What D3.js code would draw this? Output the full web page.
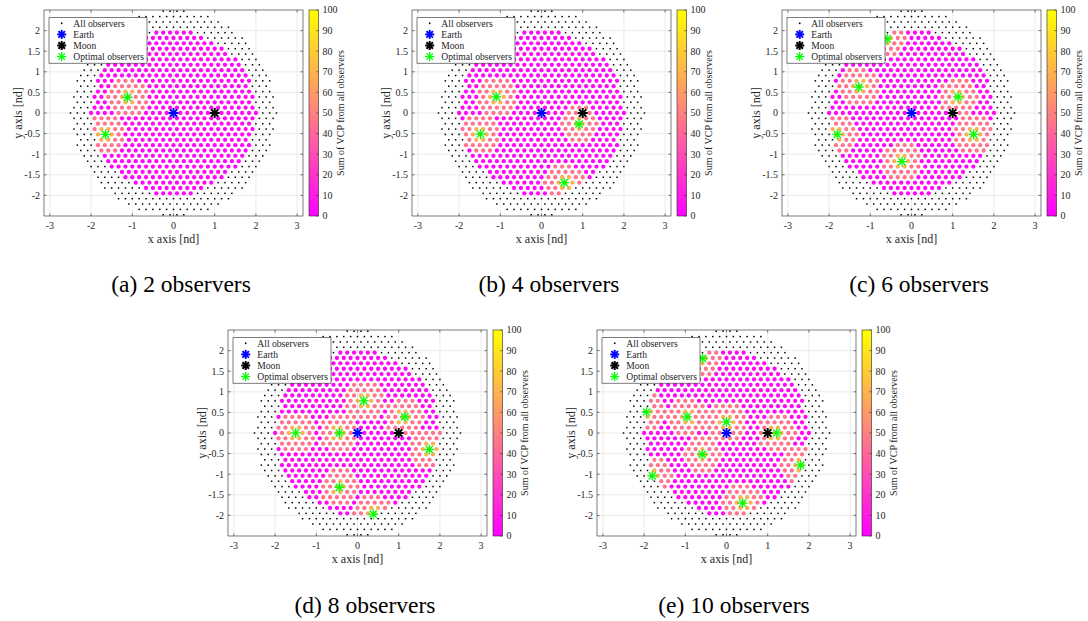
<!DOCTYPE html>
<meta charset="utf-8">
<body style="margin:0;background:#fff">
<script src="https://cdn.jsdelivr.net/npm/d3@7/dist/d3.min.js"></script>
<script>
// sub-figure captions
var captions = ["(a) 2 observers", "(b) 4 observers", "(c) 6 observers", "(d) 8 observers", "(e) 10 observers"];

// optimal observers, [x, y] in nd units
var obsA = [[-1.12, 0.38], [-1.65, -0.52]];
var obsB = [[-1.10, 0.39], [-1.48, -0.51], [0.91, -0.27], [0.55, -1.69]];
var obsC = [[-0.59, 1.80], [-1.28, 0.63], [1.13, 0.39], [-1.80, -0.52], [1.51, -0.52], [-0.23, -1.18]];
var obsD = [[0.15, 0.78], [1.15, 0.39], [-1.50, 0.00], [-0.44, 0.00], [1.74, -0.40], [-0.44, -1.32], [0.38, -1.97]];
var obsE = [[-0.58, 1.81], [-1.94, 0.51], [-0.96, 0.39], [0.00, 0.27], [1.22, 0.00], [-0.59, -0.52], [1.80, -0.78], [-1.80, -1.04], [0.39, -1.70]];
var observers = [obsA, obsB, obsC, obsD, obsE];

var earth = [0, 0];
var moon = [1, 0];

var xTicks = [-3, -2, -1, 0, 1, 2, 3];
var yTicks = [-2, -1.5, -1, -0.5, 0, 0.5, 1, 1.5, 2];
var cbTicks = [0, 10, 20, 30, 40, 50, 60, 70, 80, 90, 100];
var legendLabels = ["All observers", "Earth", "Moon", "Optimal observers"];

// candidate observer grid: row spacing, spacing in a row, outer radius, radius of coloured area
var gridDy = 0.13, gridDx = 1 / 6, gridR = 2.5, vcpR = 2.0;
// VCP sums shown: far from, around, and right next to an optimal observer
var vcpLevels = [3, 45, 68];
var vcpReach = [0.48, 0.2];

var W = 259, H = 206;
var origins = [[44, 10], [412, 10], [782, 10], [228, 330], [597, 330]];
var serif = "'Liberation Serif','Times New Roman',serif";

var svg = d3.select("body").append("svg").attr("width", 1088).attr("height", 621)
  .style("font-family", serif);

// MATLAB "spring" colormap
var spring = function(t) { return d3.rgb(255, 255 * t, 255 * (1 - t)).toString(); };
var cScale = d3.scaleLinear().domain([0, 100]).range([0, 1]);

var grad = svg.append("defs").append("linearGradient").attr("id", "spring")
  .attr("x1", 0).attr("y1", 1).attr("x2", 0).attr("y2", 0);
cbTicks.forEach(function(v) {
  grad.append("stop").attr("offset", cScale(v)).attr("stop-color", spring(cScale(v)));
});

// lattice of all observers
var lattice = [];
var nRows = Math.floor(gridR / gridDy + 1e-9);
for (var k = -nRows; k <= nRows; k++) {
  var yy = k * gridDy, off = Math.abs(k) % 2 ? 0.5 : 0;
  for (var j = -20; j <= 20; j++) {
    var xx = (j + off) * gridDx;
    if (xx * xx + yy * yy <= gridR * gridR + 1e-6) lattice.push([xx, yy]);
  }
}

function star(g, p, color, lw, r) {
  var s = g.append("g").attr("transform", "translate(" + p[0] + "," + p[1] + ")")
    .attr("stroke", color).attr("stroke-width", lw).attr("stroke-linecap", "butt");
  var d = r * 0.72;
  s.append("line").attr("x1", -r).attr("x2", r).attr("y1", 0).attr("y2", 0);
  s.append("line").attr("x1", 0).attr("x2", 0).attr("y1", -r).attr("y2", r);
  s.append("line").attr("x1", -d).attr("x2", d).attr("y1", -d).attr("y2", d);
  s.append("line").attr("x1", -d).attr("x2", d).attr("y1", d).attr("y2", -d);
}

var xr = 2.5 * W / H;
var x = d3.scaleLinear().domain([-xr, xr]).range([0, W]);
var y = d3.scaleLinear().domain([-2.5, 2.5]).range([H, 0]);
var cbY = d3.scaleLinear().domain([0, 100]).range([H, 0]);

observers.forEach(function(obs, pi) {
  var g = svg.append("g").attr("transform", "translate(" + origins[pi][0] + "," + origins[pi][1] + ")");

  // grid
  g.append("g").selectAll("line.gx").data(xTicks).enter().append("line")
    .attr("x1", function(d) { return x(d); }).attr("x2", function(d) { return x(d); })
    .attr("y1", 0).attr("y2", H).attr("stroke", "#e6e6e6").attr("stroke-width", 0.8);
  g.append("g").selectAll("line.gy").data(yTicks).enter().append("line")
    .attr("y1", function(d) { return y(d); }).attr("y2", function(d) { return y(d); })
    .attr("x1", 0).attr("x2", W).attr("stroke", "#e6e6e6").attr("stroke-width", 0.8);

  // all observers
  g.append("g").selectAll("rect").data(lattice).enter().append("rect")
    .attr("x", function(d) { return x(d[0]) - 0.75; }).attr("y", function(d) { return y(d[1]) - 0.75; })
    .attr("width", 1.5).attr("height", 1.5).attr("fill", "#000");

  // VCP sum of each observer inside the coloured disc
  var cells = lattice.filter(function(d) { return d[0] * d[0] + d[1] * d[1] <= vcpR * vcpR + 1e-6; })
    .map(function(d) {
      var m = d3.min(obs, function(o) { return Math.hypot(d[0] - o[0], d[1] - o[1]); });
      var v = m < vcpReach[1] ? vcpLevels[2] : (m < vcpReach[0] ? vcpLevels[1] : vcpLevels[0]);
      return [d[0], d[1], v];
    });
  g.append("g").selectAll("circle").data(cells).enter().append("circle")
    .attr("cx", function(d) { return x(d[0]); }).attr("cy", function(d) { return y(d[1]); })
    .attr("r", 2.15).attr("fill", function(d) { return spring(cScale(d[2])); });

  star(g, [x(earth[0]), y(earth[1])], "#0000ff", 2, 5);
  star(g, [x(moon[0]), y(moon[1])], "#000", 2, 5);
  obs.forEach(function(o) { star(g, [x(o[0]), y(o[1])], "#00ff00", 1.3, 5); });

  // legend
  var lg = g.append("g").attr("transform", "translate(5,7.7)");
  lg.append("rect").attr("width", 98).attr("height", 45.5).attr("fill", "#fff")
    .attr("stroke", "#262626").attr("stroke-width", 0.6);
  legendLabels.forEach(function(t, i) {
    var cy = 5.6 + i * 11.1;
    if (i == 0) lg.append("rect").attr("x", 11.9).attr("y", cy - 0.8).attr("width", 1.6).attr("height", 1.6).attr("fill", "#000");
    else star(lg, [12.7, cy], ["#0000ff", "#000", "#00ff00"][i - 1], i == 3 ? 1.3 : 2, 4.5);
    lg.append("text").attr("x", 24.3).attr("y", cy + 3.3).attr("font-size", 9.6).attr("fill", "#262626").text(t);
  });

  // axes box with inward ticks on all sides
  var ax = g.append("g").attr("fill", "none").attr("stroke", "#262626").attr("stroke-width", 0.6);
  ax.append("rect").attr("width", W).attr("height", H);
  xTicks.forEach(function(v) {
    ax.append("line").attr("x1", x(v)).attr("x2", x(v)).attr("y1", H).attr("y2", H - 2.6);
    ax.append("line").attr("x1", x(v)).attr("x2", x(v)).attr("y1", 0).attr("y2", 2.6);
  });
  yTicks.forEach(function(v) {
    ax.append("line").attr("y1", y(v)).attr("y2", y(v)).attr("x1", 0).attr("x2", 2.6);
    ax.append("line").attr("y1", y(v)).attr("y2", y(v)).attr("x1", W).attr("x2", W - 2.6);
  });

  g.append("g").selectAll("text").data(xTicks).enter().append("text")
    .attr("x", function(d) { return x(d); }).attr("y", H + 13).attr("text-anchor", "middle")
    .attr("font-size", 10).attr("fill", "#262626").text(function(d) { return String(d); });
  g.append("g").selectAll("text").data(yTicks).enter().append("text")
    .attr("x", -4).attr("y", function(d) { return y(d) + 3.4; }).attr("text-anchor", "end")
    .attr("font-size", 10).attr("fill", "#262626").text(function(d) { return String(d); });

  g.append("text").attr("x", W / 2).attr("y", H + 27).attr("text-anchor", "middle")
    .attr("font-size", 12).attr("fill", "#262626").text("x axis [nd]");
  g.append("text").attr("transform", "translate(-22," + (H / 2) + ") rotate(-90)")
    .attr("text-anchor", "middle").attr("font-size", 12).attr("fill", "#262626").text("y axis [nd]");

  // colour bar
  var cb = g.append("g").attr("transform", "translate(" + (W + 6) + ",0)");
  cb.append("rect").attr("width", 9.5).attr("height", H).attr("fill", "url(#spring)")
    .attr("stroke", "#262626").attr("stroke-width", 0.6);
  cbTicks.forEach(function(v) {
    cb.append("line").attr("x1", 9.5).attr("x2", 7.3).attr("y1", cbY(v)).attr("y2", cbY(v))
      .attr("stroke", "#262626").attr("stroke-width", 0.6);
    cb.append("text").attr("x", 13.5).attr("y", cbY(v) + 3.4).attr("font-size", 10)
      .attr("fill", "#262626").text(v);
  });
  cb.append("text").attr("transform", "translate(35," + (H / 2) + ") rotate(-90)")
    .attr("text-anchor", "middle").attr("font-size", 10).attr("fill", "#262626")
    .text("Sum of VCP from all observers");

  // caption
  g.append("text").attr("x", 137).attr("y", (pi < 3 ? 282 : 283)).attr("text-anchor", "middle")
    .attr("font-size", 23.5).attr("fill", "#000").text(captions[pi]);
});
</script>
</body>
